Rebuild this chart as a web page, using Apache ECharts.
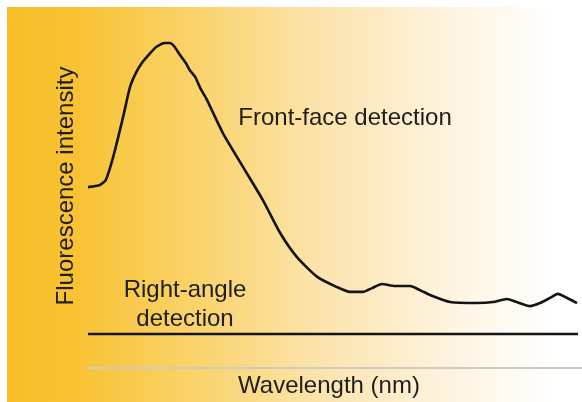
<!DOCTYPE html>
<html>
<head>
<meta charset="utf-8">
<title>Fluorescence: front-face vs right-angle detection</title>
<script src="https://cdn.jsdelivr.net/npm/echarts@6/dist/echarts.min.js"></script>
<style>
  html, body { margin: 0; padding: 0; background: #ffffff; }
  #chart { width: 582px; height: 402px; }
</style>
</head>
<body>
<div id="chart"></div>
<script>
// Wavelength positions (relative units along the scan)
const wavelength = [0, 2.4, 3.6, 5.1, 7.1, 8.5, 9.7, 10.9, 12.6, 13.8, 15.6, 16.6, 17.4, 18.6,
  19.8, 20.6, 21.7, 22.7, 24.1, 27.3, 31.4, 35.4, 38.9, 42.3, 46.4, 50.4, 53.0, 55.7,
  57.5, 59.5, 62.1, 65.2, 67.2, 69.2, 73.3, 78.7, 82.0, 84.8, 86.8, 89.5, 91.5, 93.5,
  95.1, 97.0, 99.0];
// Front-face detection spectrum (relative intensity)
const frontFace = [53.2, 53.8, 55.3, 62.1, 73.8, 82.6, 86.8, 89.7, 92.6, 94.4, 95.6, 95.6, 94.7, 92.1,
  89.7, 87.6, 85.6, 82.4, 78.8, 69.1, 59.1, 49.4, 39.7, 32.6, 26.8, 23.8, 22.4, 22.4,
  23.5, 24.7, 24.1, 24.1, 22.9, 21.5, 19.4, 19.1, 19.4, 20.3, 19.4, 18.2, 19.1, 20.6,
  21.8, 20.6, 19.1];
// Right-angle detection: flat, low signal across the range
const rightAngleX = [0, 99.2];
const rightAngle = [10, 10];

const textColor = '#1e1e1e';
const fontFamily = '"Liberation Sans", Arial, sans-serif';

const chart = echarts.init(document.getElementById('chart'), null, { renderer: 'canvas' });

chart.setOption({
  animation: false,
  backgroundColor: '#ffffff',
  grid: { left: 88, right: 0, top: 28, bottom: 34 },
  xAxis: {
    type: 'value', min: 0, max: 100,
    axisLine: { show: true, lineStyle: { color: '#cfcbc2', width: 2 } },
    axisTick: { show: false }, axisLabel: { show: false }, splitLine: { show: false }
  },
  yAxis: {
    type: 'value', min: 0, max: 100,
    axisLine: { show: false }, axisTick: { show: false },
    axisLabel: { show: false }, splitLine: { show: false }
  },
  graphic: [
    {
      type: 'rect', z: -10, silent: true,
      shape: { x: 7, y: 7, width: 575, height: 395 },
      style: {
        fill: new echarts.graphic.LinearGradient(0, 0, 1, 0, [
          { offset: 0, color: '#F7BE28' },
          { offset: 0.12, color: '#F8C232' },
          { offset: 0.33, color: '#FAD36B' },
          { offset: 0.55, color: '#FCE4AE' },
          { offset: 0.78, color: '#FEF4E2' },
          { offset: 0.96, color: '#FFFFFF' }
        ])
      }
    },
    {
      type: 'text', x: 66, y: 186, rotation: Math.PI / 2,
      style: {
        text: 'Fluorescence intensity', fill: textColor, font: '24px ' + fontFamily,
        align: 'center', verticalAlign: 'middle'
      }
    },
    {
      type: 'text', x: 345, y: 118,
      style: {
        text: 'Front-face detection', fill: textColor, font: '24px ' + fontFamily,
        align: 'center', verticalAlign: 'middle'
      }
    },
    {
      type: 'text', x: 185, y: 290,
      style: {
        text: 'Right-angle', fill: textColor, font: '24px ' + fontFamily,
        align: 'center', verticalAlign: 'middle'
      }
    },
    {
      type: 'text', x: 185, y: 319,
      style: {
        text: 'detection', fill: textColor, font: '24px ' + fontFamily,
        align: 'center', verticalAlign: 'middle'
      }
    },
    {
      type: 'text', x: 329, y: 386,
      style: {
        text: 'Wavelength (nm)', fill: textColor, font: '24px ' + fontFamily,
        align: 'center', verticalAlign: 'middle'
      }
    }
  ],
  series: [
    {
      name: 'Front-face detection',
      type: 'line',
      data: wavelength.map((w, i) => [w, frontFace[i]]),
      smooth: 0.2,
      showSymbol: false,
      lineStyle: { color: '#141414', width: 2.6 }
    },
    {
      name: 'Right-angle detection',
      type: 'line',
      data: rightAngleX.map((w, i) => [w, rightAngle[i]]),
      showSymbol: false,
      lineStyle: { color: '#141414', width: 2.6 }
    }
  ]
});
</script>
</body>
</html>
